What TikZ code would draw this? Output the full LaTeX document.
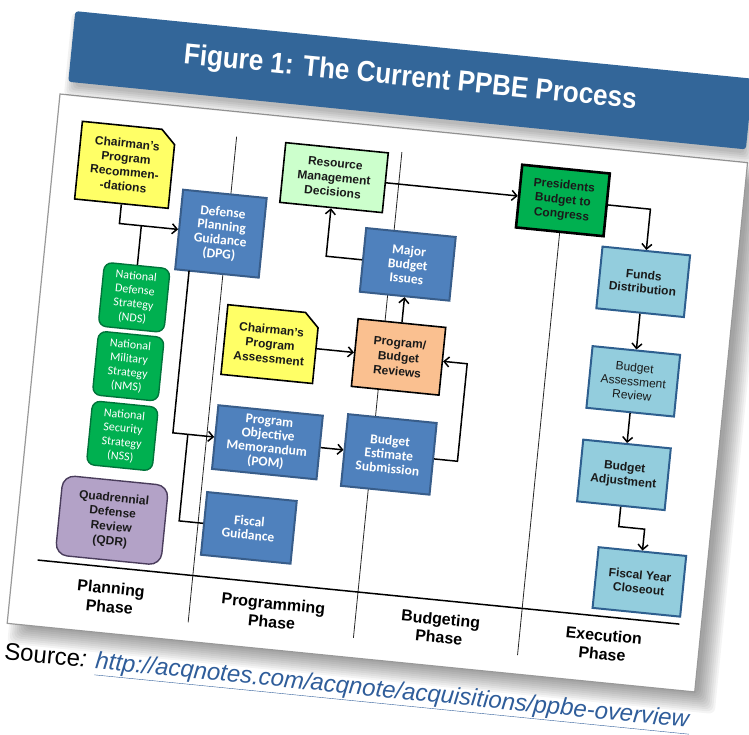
\documentclass[tikz,border=0pt]{standalone}
\usepackage{fontspec}
\setmainfont{Liberation Sans}
\newfontfamily\calib{Carlito}
\usetikzlibrary{arrows.meta,shapes.misc}

\definecolor{bannerblue}{HTML}{336699}
\definecolor{boxblue}{HTML}{4F81BD}
\definecolor{boxblueedge}{HTML}{385D8A}
\definecolor{yel}{HTML}{FFFF66}
\definecolor{lgreen}{HTML}{CCFFCC}
\definecolor{orng}{HTML}{FAC090}
\definecolor{grn}{HTML}{00B050}
\definecolor{grnedge}{HTML}{00743A}
\definecolor{aqua}{HTML}{93CDDD}
\definecolor{aquaedge}{HTML}{2E5F8F}
\definecolor{purp}{HTML}{B3A2C7}
\definecolor{purpedge}{HTML}{4A3D5C}
\definecolor{linkblue}{HTML}{2F5D9A}
\definecolor{txt}{HTML}{1A1A1A}

\begin{document}
\begin{tikzpicture}[x=1pt,y=-1pt]
\useasboundingbox (0,0) rectangle (749,734);
\begin{scope}[shift={(60,94)},rotate=-5.7,transform shape,
  box/.style={rectangle, align=center, inner sep=1pt},
  darkbox/.style={box, draw=black, line width=1.6pt, text=txt, font=\bfseries\fontsize{12}{14.5}\selectfont},
  notebox/.style={darkbox, chamfered rectangle, chamfered rectangle corners=north east, chamfered rectangle xsep=7pt, chamfered rectangle ysep=7pt, fill=yel},
  bluebox/.style={box, fill=boxblue, draw=boxblueedge, line width=2pt, text=white, font=\calib\bfseries\fontsize{13.5}{14}\selectfont},
  aquabox/.style={box, fill=aqua, draw=aquaedge, line width=2pt, text=txt, font=\bfseries\fontsize{12}{14}\selectfont},
  strat/.style={box, rounded corners=8pt, fill=grn, draw=grnedge, line width=1.4pt, text=white, font=\calib\fontsize{12}{14}\selectfont, minimum width=66, minimum height=64},
  conn/.style={line width=1.5pt, draw=black},
  arr/.style={conn, -{Straight Barb[length=5pt,width=10pt,line width=1.5pt]}},
  phase/.style={align=center, font=\bfseries\fontsize{16}{18.5}\selectfont, text=black},
  phaseline/.style={line width=0.8pt, draw=black!85},
]
% card shadow
\foreach \e in {-8,-6,...,10}
  \fill[black, opacity=0.045, rounded corners=6pt] ({12-\e},{10-\e}) rectangle ({703+\e},{542+\e});
% card
\filldraw[fill=white, draw=black!40, line width=1.2pt] (0,0) rectangle (691,532);
% banner shadow
\foreach \e in {-4,-2,...,6}
  \fill[black, opacity=0.05, rounded corners=4pt] ({10-\e},{-76-\e}) rectangle ({691+\e},{-5+\e});
\fill[bannerblue, rounded corners=3pt] (7,-84) rectangle (688,-13);
\node[font=\bfseries\fontsize{29}{32}\selectfont, text=white] (title) at (347,-50) {\scalebox{0.9}[1]{Figure 1: The Current PPBE Process}};

% phase lines
\draw[phaseline] (180,25) -- (180,513);
\draw[phaseline] (346,24) -- (346,512);
\draw[phaseline] (511,24) -- (511,513);
\draw[line width=1.5pt] (24,466) -- (669,466);

% phase labels
\node[phase] (ph1) at (100,496) {Planning\\Phase};
\node[phase] (ph2) at (263,495) {Programming\\Phase};
\node[phase] (ph3) at (431,494) {Budgeting\\Phase};
\node[phase] (ph4) at (595,494) {Execution\\Phase};

% nodes
\node[notebox, minimum width=94, minimum height=78] (cpr) at (72,64) {Chairman's\\Program\\Recommen-\\-dations};
\node[bluebox, minimum width=84, minimum height=80] (dpg) at (174,123) {Defense\\Planning\\Guidance\\(DPG)};
\node[darkbox, fill=lgreen, minimum width=103, minimum height=60] (rmd) at (281,56) {Resource\\Management\\Decisions};
\node[bluebox, minimum width=90, minimum height=64] (mbi) at (363,135) {Major\\Budget\\Issues};
\node[notebox, minimum width=92, minimum height=70] (cpa) at (234,228) {Chairman's\\Program\\Assessment};
\node[darkbox, fill=orng, minimum width=88, minimum height=68] (pbr) at (363,228) {Program/\\Budget\\Reviews};
\node[bluebox, minimum width=105, minimum height=64] (pom) at (241,326) {Program\\Objective\\Memorandum\\(POM)};
\node[bluebox, minimum width=89, minimum height=72] (bes) at (363,326) {Budget\\Estimate\\Submission};
\node[bluebox, minimum width=90, minimum height=63] (fg) at (231,413) {Fiscal\\Guidance};
\node[strat] (nds) at (94,195) {National\\Defense\\Strategy\\(NDS)};
\node[strat] (nms) at (95,264) {National\\Military\\Strategy\\(NMS)};
\node[strat] (nss) at (96,334) {National\\Security\\Strategy\\(NSS)};
\node[darkbox, rounded corners=12pt, fill=purp, draw=purpedge, line width=1.4pt, minimum width=106, minimum height=80] (qdr) at (94,419) {Quadrennial\\Defense\\Review\\(QDR)};
\node[darkbox, fill=grn, line width=2.6pt, minimum width=88, minimum height=63] (pbc) at (511,56) {Presidents\\Budget to\\Congress};
\node[aquabox, minimum width=88, minimum height=62] (fd) at (599,129) {Funds\\Distribution};
\node[aquabox, font=\fontsize{12}{14}\selectfont, minimum width=88, minimum height=62] (bar) at (599,229) {Budget\\Assessment\\Review};
\node[aquabox, minimum width=88, minimum height=62] (ba) at (599,323) {Budget\\Adjustment};
\node[aquabox, minimum width=88, minimum height=61] (fyc) at (625,428) {Fiscal Year\\Closeout};

% connector corners
\coordinate (c1) at (72,123);
\coordinate (c2) at (94,123);
\coordinate (s3) at (146,163);
\coordinate (c3) at (146,326);
\coordinate (j4) at (161,326);
\coordinate (c4) at (161,413);
\coordinate (c5a) at (432,326);
\coordinate (c5b) at (432,228);
\coordinate (c6) at (281,135);
\coordinate (c7) at (599,56);
\coordinate (c8a) at (599,375);
\coordinate (c8b) at (625,375);

% connectors
\draw[arr] (cpr.south) -- (c1) -- (dpg.west);
\draw[conn] (nds.north) -- (c2);
\draw[arr] (s3) -- (c3) -- (pom.west);
\draw[conn] (j4) -- (c4) -- (fg.west);
\draw[arr] (pom.east) -- (bes.west);
\draw[arr] (bes.east) -- (c5a) -- (c5b) -- (pbr.east);
\draw[arr] (cpa.east) -- (pbr.west);
\draw[arr] (pbr.north) -- (mbi.south);
\draw[arr] (mbi.west) -- (c6) -- (rmd.south);
\draw[arr] (rmd.east) -- (pbc.west);
\draw[arr] (pbc.east) -- (c7) -- (fd.north);
\draw[arr] (fd.south) -- (bar.north);
\draw[arr] (bar.south) -- (ba.north);
\draw[arr] (ba.south) -- (c8a) -- (c8b) -- (fyc.north);

% source
\node[anchor=west, inner sep=0pt, font=\fontsize{24}{28}\selectfont] (src) at (0,563) {Source\textit{:} \textcolor{linkblue}{\underline{\textit{http://acqnotes.com/acqnote/acquisitions/ppbe-overview}}}};
\end{scope}
\end{tikzpicture}
\end{document}
